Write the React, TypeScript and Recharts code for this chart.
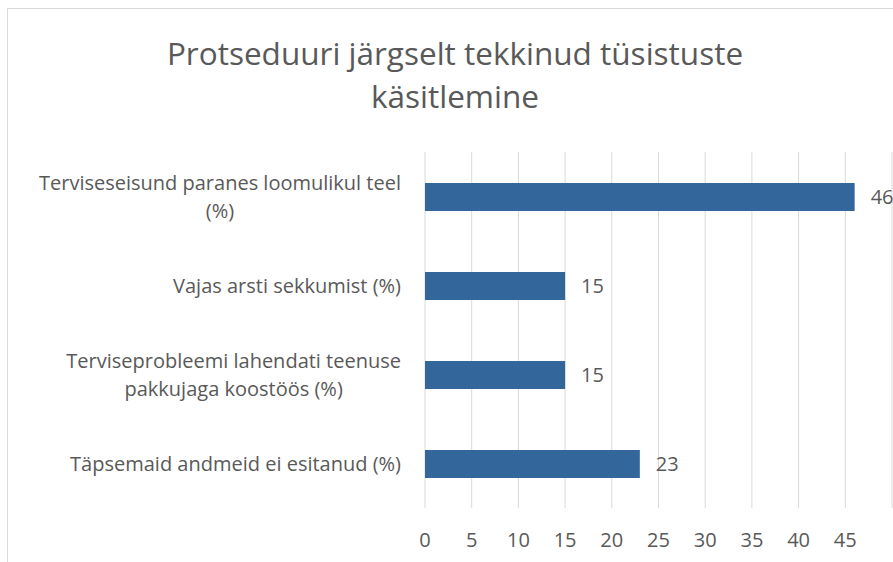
import React from 'react';
import { BarChart, Bar, XAxis, YAxis, CartesianGrid, LabelList } from 'recharts';

const categories = [
  'Terviseseisund paranes loomulikul teel (%)',
  'Vajas arsti sekkumist (%)',
  'Terviseprobleemi lahendati teenuse pakkujaga koostöös (%)',
  'Täpsemaid andmeid ei esitanud (%)',
];
const labelLines = [
  ['Terviseseisund paranes loomulikul teel', '(%)'],
  ['Vajas arsti sekkumist (%)'],
  ['Terviseprobleemi lahendati teenuse', 'pakkujaga koostöös (%)'],
  ['Täpsemaid andmeid ei esitanud (%)'],
];
const values = [46, 15, 15, 23];
const xTicks = [0, 5, 10, 15, 20, 25, 30, 35, 40, 45];

const data = categories.map((name, i) => ({ name, value: values[i] }));

const FONT = '"Open Sans", sans-serif';
const TEXT = '#595959';
const LABEL_SIZE = 20;

// measure text with a hidden svg so the real font is used
function textWidth(s: string) {
  const ns = 'http://www.w3.org/2000/svg';
  const svg = document.createElementNS(ns, 'svg');
  svg.setAttribute('style', 'position:absolute;visibility:hidden;left:-9999px');
  const t = document.createElementNS(ns, 'text');
  t.setAttribute('font-family', FONT);
  t.setAttribute('font-size', String(LABEL_SIZE));
  t.textContent = s;
  svg.appendChild(t);
  document.body.appendChild(svg);
  const w = t.getComputedTextLength();
  document.body.removeChild(svg);
  return w;
}

function CategoryTick(props: any) {
  const { x, y, payload } = props;
  const lines: string[] = labelLines[payload.index] ?? [payload.value];
  const maxW = Math.max(...lines.map(textWidth));
  const cx = x - 16 - maxW / 2;
  const lh = 28;
  const y0 = y - ((lines.length - 1) * lh) / 2;
  return (
    <text fill={TEXT} fontSize={LABEL_SIZE} fontFamily={FONT} textAnchor="middle">
      {lines.map((l, i) => (
        <tspan key={i} x={cx} y={y0 + i * lh} dy="0.35em">
          {l}
        </tspan>
      ))}
    </text>
  );
}

export default function App() {
  return (
    <div style={{ position: 'fixed', left: 0, top: 0, width: 893, height: 562, overflow: 'hidden', background: '#fff' }}>
      <div
        style={{
          position: 'absolute',
          left: 7,
          top: 8,
          width: 1000,
          height: 700,
          border: '1px solid #d9d9d9',
        }}
      />
      <div
        style={{
          position: 'absolute',
          left: 20,
          top: 31,
          width: 870,
          textAlign: 'center',
          fontFamily: FONT,
          fontSize: 31.5,
          lineHeight: '43px',
          color: TEXT,
        }}
      >
        Protseduuri järgselt tekkinud tüsistuste
        <br />
        käsitlemine
      </div>
      <div style={{ position: 'absolute', left: 0, top: 0 }}>
        <BarChart
          width={960}
          height={562}
          data={data}
          layout="vertical"
          margin={{ top: 152, right: 68, bottom: 14, left: 0 }}
          barCategoryGap={30}
        >
          <CartesianGrid horizontal={false} stroke="#d9d9d9" />
          <XAxis
            type="number"
            domain={[0, 50]}
            ticks={xTicks}
            axisLine={false}
            tickLine={false}
            height={40}
            tickMargin={19}
            tick={{ fill: TEXT, fontSize: LABEL_SIZE, fontFamily: FONT }}
          />
          <YAxis
            type="category"
            dataKey="name"
            width={425}
            axisLine={false}
            tickLine={false}
            tick={<CategoryTick />}
          />
          <Bar dataKey="value" fill="#33669a" barSize={28} isAnimationActive={false}>
            <LabelList
              dataKey="value"
              position="right"
              offset={16}
              fill={TEXT}
              fontSize={LABEL_SIZE}
              fontFamily={FONT}
            />
          </Bar>
        </BarChart>
      </div>
    </div>
  );
}
